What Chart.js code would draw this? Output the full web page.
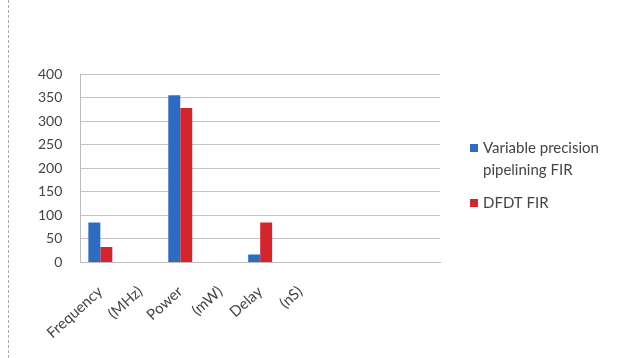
<!DOCTYPE html>
<html>
<head>
<meta charset="utf-8">
<script src="https://cdn.jsdelivr.net/npm/chart.js@4.4.0/dist/chart.umd.min.js"></script>
<style>
  html, body { margin: 0; padding: 0; background: #fff; }
  #wrap { position: relative; width: 628px; height: 358px; }
  #edge { position: absolute; left: 8px; top: 0; height: 358px; border-left: 1px dashed #aaa; }
</style>
</head>
<body>
<div id="wrap">
  <div id="edge"></div>
  <canvas id="chart" width="628" height="358"></canvas>
</div>
<script>
// categories (the unit cells sit in their own columns, like in the sheet)
const categories = ["Frequency", "(MHz)", "Power", "(mW)", "Delay", "(nS)", "", "", ""];
const variablePrecision = [85, null, 355, null, 17, null, null, null, null];
const dfdtFir = [33, null, 328, null, 85, null, null, null, null];
const yTicks = [0, 50, 100, 150, 200, 250, 300, 350, 400];

// draws the legend on the right, label lines split on "\n"
const sideLegend = {
  id: "sideLegend",
  afterDraw(chart) {
    const ctx = chart.ctx;
    const area = chart.chartArea;
    const x = area.right + 30;
    let y = 148;
    ctx.save();
    ctx.font = "15px Lato";
    ctx.textBaseline = "middle";
    chart.data.datasets.forEach(function (ds) {
      ctx.fillStyle = ds.backgroundColor;
      ctx.fillRect(x, y - 4, 8, 8);
      ctx.fillStyle = "#444";
      ds.label.split("\n").forEach(function (line) {
        ctx.fillText(line, x + 13, y);
        y += 22;
      });
      y += 11;
    });
    ctx.restore();
  },
};

new Chart(document.getElementById("chart"), {
  type: "bar",
  data: {
    labels: categories,
    datasets: [
      {
        label: "Variable precision\npipelining FIR",
        data: variablePrecision,
        backgroundColor: "#2f6cc0",
        categoryPercentage: 0.6,
        barPercentage: 1.0,
      },
      {
        label: "DFDT FIR",
        data: dfdtFir,
        backgroundColor: "#d2262e",
        categoryPercentage: 0.6,
        barPercentage: 1.0,
      },
    ],
  },
  options: {
    responsive: false,
    animation: false,
    layout: {
      padding: { left: 20, right: 188, top: 74, bottom: 4 },
    },
    plugins: {
      legend: { display: false },
      tooltip: { enabled: false },
    },
    scales: {
      x: {
        grid: { display: false },
        border: { color: "#bbb" },
        ticks: {
          color: "#444",
          font: { family: "Lato", size: 15 },
          minRotation: 42,
          maxRotation: 42,
          autoSkip: false,
          padding: 12,
        },
      },
      y: {
        min: 0,
        max: 400,
        afterBuildTicks: function (axis) {
          axis.ticks = yTicks.map(function (v) { return { value: v }; });
        },
        grid: { color: "#c4c4c4", drawTicks: false },
        border: { color: "#bbb" },
        ticks: {
          color: "#444",
          font: { family: "Lato", size: 14 },
          padding: 18,
        },
      },
    },
  },
  plugins: [sideLegend],
});
</script>
</body>
</html>
